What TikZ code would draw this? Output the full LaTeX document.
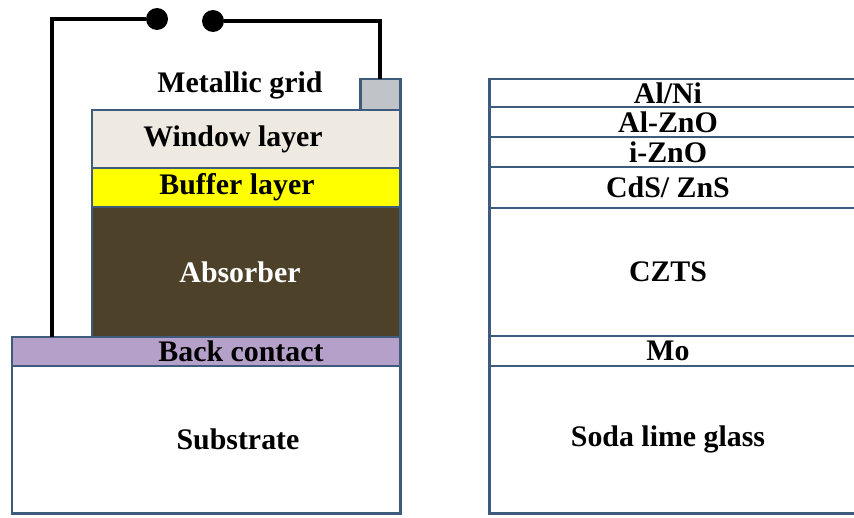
\documentclass[tikz,border=0pt]{standalone}
\usepackage{fontspec}
\setmainfont{Liberation Serif}
\usetikzlibrary{positioning}

\definecolor{framecol}{RGB}{62,90,124}
\definecolor{windowcol}{RGB}{238,234,226}
\definecolor{buffercol}{RGB}{255,255,0}
\definecolor{absorbcol}{RGB}{77,65,41}
\definecolor{backcol}{RGB}{180,160,200}
\definecolor{gridcol}{RGB}{192,196,200}

\newcommand\pxu{0.02cm}

\begin{document}
\begin{tikzpicture}[
                x=\pxu, y=-\pxu,
                layer/.style={draw=framecol, line width=1.7pt, outer sep=0pt, inner sep=0pt},
                lbl/.style={font=\fontsize{17}{19}\selectfont\bfseries, inner sep=0pt},
                wire/.style={line width=2.5pt, black},
                terminal/.style={circle, fill=black, minimum size=22*\pxu, inner sep=0pt}
            ]
            \useasboundingbox (0,0) rectangle (854,517);

            % left stack: generic cell
            \node[layer, fill=windowcol, minimum width=308*\pxu, minimum height=58*\pxu, anchor=north west] (window) at (92,110) {};
            \node[layer, fill=buffercol, minimum width=308*\pxu, minimum height=39*\pxu, below=0pt of window] (buffer) {};
            \node[layer, fill=absorbcol, minimum width=308*\pxu, minimum height=130*\pxu, below=0pt of buffer] (absorber) {};
            \node[layer, fill=backcol, minimum width=388*\pxu, minimum height=29*\pxu, anchor=north east] (back) at (absorber.south east) {};
            \node[layer, fill=white, minimum width=388*\pxu, minimum height=147*\pxu, below=0pt of back] (substrate) {};
            \node[layer, fill=gridcol, minimum width=40*\pxu, minimum height=31*\pxu, anchor=south east] (grid) at (window.north east) {};

            \node[lbl] at (240,85) {Metallic grid};
            \node[lbl] at (233,0 |- window) {Window layer};
            \node[lbl] at (237,0 |- buffer) {Buffer layer};
            \node[lbl, text=white] at (240,0 |- absorber) {Absorber};
            \node[lbl] at (241,0 |- back) {Back contact};
            \node[lbl] at (238,0 |- substrate) {Substrate};

            % external circuit
            \node[terminal] (plus) at (157,19) {};
            \node[terminal] (minus) at (213,21) {};
            \draw[wire] (back.north -| 52,0) |- (plus);
            \draw[wire] (minus) -| (grid.north);

            % right stack: CZTS cell
            \node[layer, minimum width=373*\pxu, minimum height=28*\pxu, anchor=north west] (alni) at (489,79) {};
            \node[layer, minimum width=373*\pxu, minimum height=30*\pxu, below=0pt of alni] (alzno) {};
            \node[layer, minimum width=373*\pxu, minimum height=30*\pxu, below=0pt of alzno] (izno) {};
            \node[layer, minimum width=373*\pxu, minimum height=41*\pxu, below=0pt of izno] (cds) {};
            \node[layer, minimum width=373*\pxu, minimum height=128*\pxu, below=0pt of cds] (czts) {};
            \node[layer, minimum width=373*\pxu, minimum height=30*\pxu, below=0pt of czts] (mo) {};
            \node[layer, minimum width=373*\pxu, minimum height=147*\pxu, below=0pt of mo] (glass) {};

            \node[lbl] at (668,0 |- alni) {Al/Ni};
            \node[lbl] at (668,0 |- alzno) {Al-ZnO};
            \node[lbl] at (668,0 |- izno) {i-ZnO};
            \node[lbl] at (668,0 |- cds) {CdS/ ZnS};
            \node[lbl] at (668,0 |- czts) {CZTS};
            \node[lbl] at (668,0 |- mo) {Mo};
            \node[lbl] at (668,0 |- glass) {Soda lime glass};

        \end{tikzpicture}
\end{document}
